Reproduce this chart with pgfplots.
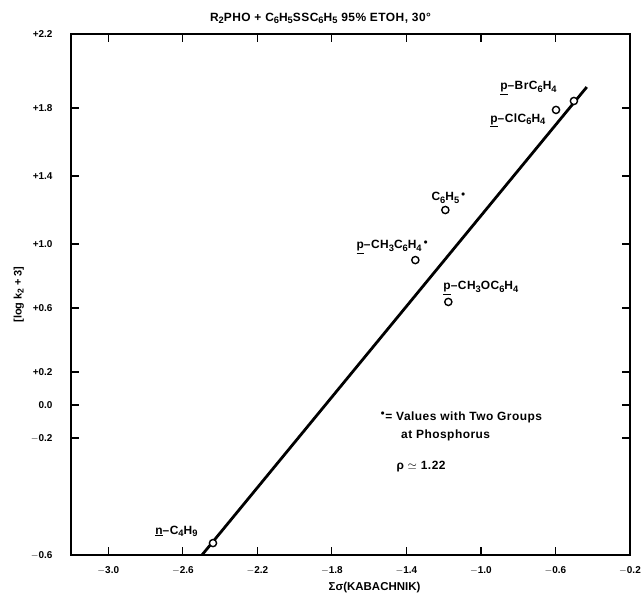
\documentclass[border=0pt]{standalone}
\usepackage{fontspec}
\setmainfont{Liberation Sans}
\usepackage{graphicx}
\usepackage{pgfplots}
\pgfplotsset{compat=1.18}
\newcommand{\sub}[1]{\raisebox{-0.35ex}{\scalebox{0.78}{#1}}}
\begin{document}
\begin{tikzpicture}
\begin{axis}[
  scale only axis,
  width=559bp, height=521bp,
  xmin=-3.2, xmax=-0.2,
  ymin=-0.6, ymax=2.2,
  axis line style={line width=2pt},
  major tick style={draw=black, line width=1.2pt},
  major tick length=8bp,
  tick pos=both,
  tick align=inside,
  xtick={-3.0,-2.6,-2.2,-1.8,-1.4,-1.0,-0.6,-0.2},
  xticklabels={$-$3.0,$-$2.6,$-$2.2,$-$1.8,$-$1.4,$-$1.0,$-$0.6,$-$0.2},
  % tick marks placed where the original (hand-drawn, uneven) axis has them
  ytick={-0.6,0.029,0.206,0.384,0.727,1.071,1.437,1.802,2.2},
  yticklabels={$-$0.6,$-$0.2,0.0,+0.2,+0.6,+1.0,+1.4,+1.8,+2.2},
  /pgf/number format/assume math mode=true,
  ticklabel style={font=\bfseries\fontsize{10}{12}\selectfont},
  xticklabel style={yshift=-8bp},
  yticklabel style={xshift=-15bp},
  title={\bfseries\fontsize{12}{14}\selectfont\addfontfeatures{LetterSpace=4} R\sub{2}PHO + C\sub{6}H\sub{5}SSC\sub{6}H\sub{5} 95\% ETOH, 30\textdegree},
  title style={yshift=1bp, xshift=-30bp},
  xlabel={\bfseries\fontsize{11.5}{13}\selectfont Σσ(KABACHNIK)},
  xlabel style={yshift=-1bp, xshift=24bp},
  ylabel={\bfseries\fontsize{11}{13}\selectfont [log k\sub{2} + 3]},
  clip=false,
]
\coordinate (sw) at (rel axis cs:0,0);
\coordinate (ne) at (rel axis cs:1,1);
% regression line, slope rho = 1.22
\addplot[black, line width=2.8pt] coordinates {(-2.497,-0.6) (-0.432,1.915)};
% data points
\addplot[only marks, mark=*, mark size=3.6bp, mark options={fill=white, draw=black, line width=1.4pt}]
  coordinates {
  (-2.438,-0.536)
  (-1.352,0.985)
  (-1.191,1.254)
  (-1.175,0.760)
  (-0.597,1.792)
  (-0.501,1.840)
};
\begin{scope}[every node/.style={font=\bfseries\fontsize{12}{14}\selectfont\addfontfeatures{LetterSpace=4}, inner sep=0pt}]
\node at (axis cs:-0.745,1.910) {\underline{p}–BrC\sub{6}H\sub{4}};
\node at (axis cs:-0.802,1.738) {\underline{p}–ClC\sub{6}H\sub{4}};
\node[anchor=west] at (axis cs:-1.266,1.319) {C\sub{6}H\sub{5}\,$^{\bullet}$};
\node[anchor=west] at (axis cs:-1.668,1.055) {\underline{p}–CH\sub{3}C\sub{6}H\sub{4}\,$^{\bullet}$};
\node[anchor=west] at (axis cs:-1.202,0.835) {\underline{p}–CH\sub{3}OC\sub{6}H\sub{4}};
\node at (axis cs:-2.634,-0.471) {\underline{n}–C\sub{4}H\sub{9}};
\node[anchor=west] at (axis cs:-1.539,0.142) {$^{\bullet}$= Values with Two Groups};
\node[anchor=west] at (axis cs:-1.429,0.045) {at Phosphorus};
\node[anchor=west] at (axis cs:-1.454,-0.127) {ρ $\simeq$ 1.22};
\end{scope}
\end{axis}
\pgfresetboundingbox
\path[use as bounding box] ([shift={(-71bp,-43bp)}]sw) rectangle ([shift={(13bp,34bp)}]ne);
\end{tikzpicture}
\end{document}
